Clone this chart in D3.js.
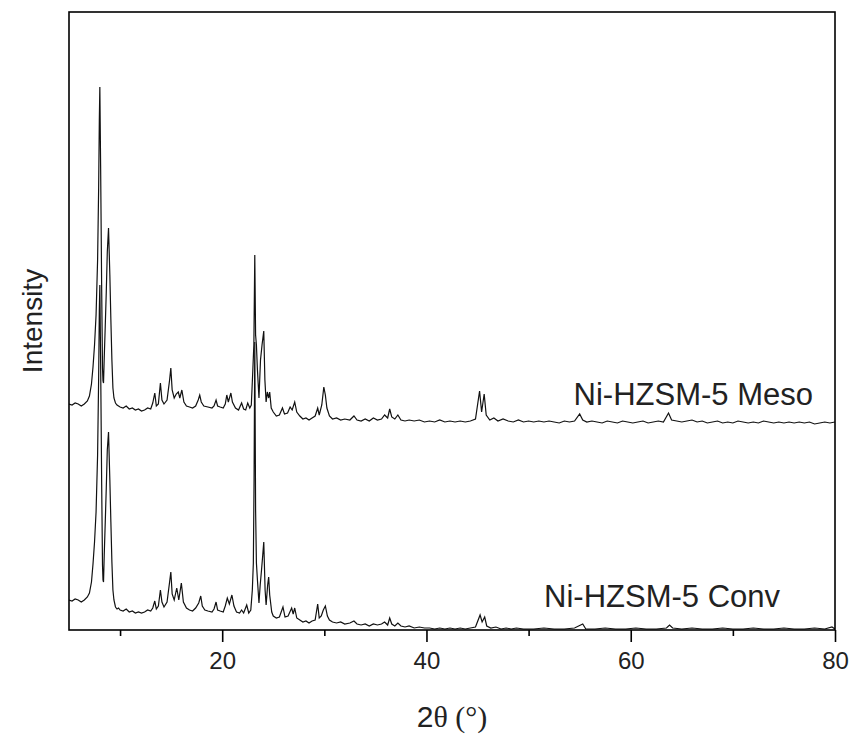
<!DOCTYPE html>
<html>
<head>
<meta charset="utf-8">
<script src="https://cdnjs.cloudflare.com/ajax/libs/d3/7.8.5/d3.min.js"></script>
<style>
  body { margin: 0; background: #fff; }
  svg { font-family: "Liberation Sans", Arial, sans-serif; }
</style>
</head>
<body>
<div id="chart"></div>
<script>
// XRD patterns: [2theta, intensity (a.u.)]
var convPattern = [
  [5.0,30],[5.3,29],[5.6,31],[5.9,30],[6.2,28],[6.5,30],[6.8,33],[7.0,37],[7.2,48],[7.35,66],
  [7.5,88],[7.65,118],[7.8,175],[7.9,250],[7.97,320],[8.02,345],[8.1,265],[8.2,145],[8.28,65],
  [8.33,50],[8.38,48],[8.45,75],[8.55,108],[8.65,142],[8.75,180],[8.87,198],[9.0,150],[9.1,108],
  [9.2,68],[9.3,40],[9.4,30],[9.55,23],[9.7,21],[9.85,22],[10.0,20],[10.3,19],[10.6,21],[10.9,18],[11.2,19],
  [11.5,17],[11.8,18],[12.1,17],[12.4,18],[12.7,20],[13.0,19],[13.2,22],[13.4,29],[13.55,21],
  [13.75,24],[13.95,40],[14.1,28],[14.3,23],[14.6,28],[14.85,48],[14.97,58],[15.1,36],[15.3,30],
  [15.55,42],[15.75,30],[16.0,47],[16.2,28],[16.5,22],[16.8,20],[17.1,19],[17.4,22],[17.7,27],
  [17.9,34],[18.05,24],[18.3,20],[18.6,19],[19.0,18],[19.2,21],[19.4,28],[19.55,20],[19.8,19],
  [20.1,18],[20.3,24],[20.5,32],[20.7,26],[20.95,35],[21.15,24],[21.4,18],[21.7,17],[21.9,20],
  [22.1,17],[22.4,25],[22.6,17],[22.8,20],[22.95,40],[23.05,67],[23.12,150],[23.19,288],[23.27,120],
  [23.35,67],[23.45,50],[23.6,27],[23.72,45],[23.85,60],[23.97,75],[24.07,88],[24.2,40],[24.3,25],
  [24.45,45],[24.55,53],[24.65,35],[24.85,18],[25.0,14],[25.3,12],[25.6,13],[25.95,23],[26.15,13],
  [26.45,14],[26.8,22],[26.95,16],[27.1,22],[27.3,12],[27.6,10],[27.9,8],[28.2,9],[28.5,7],[28.8,9],
  [29.1,10],[29.35,26],[29.5,12],[29.7,14],[29.9,20],[30.1,24],[30.3,14],[30.5,10],[30.8,8],[31.2,7],
  [31.6,8],[32.0,6],[32.5,7],[32.9,9],[33.2,6],[33.6,5],[34.0,6],[34.4,4],[34.8,6],[35.2,5],[35.6,6],
  [35.9,8],[36.2,5],[36.4,12],[36.6,6],[36.9,4],[37.2,7],[37.5,4],[37.9,3],[38.3,4],[38.8,2],[39.3,3],
  [39.8,2],[40.3,2],[40.8,1],[41.3,2],[41.8,1],[42.3,2],[42.8,1],[43.3,2],[43.8,1],[44.3,2],[44.8,3],
  [45.25,15],[45.45,8],[45.7,13],[45.9,4],[46.3,2],[46.8,3],[47.3,1],[47.8,2],[48.3,1],[48.8,2],
  [49.5,1],[50.5,1],[51.5,2],[52.5,1],[53.5,1],[54.5,2],[55.3,6],[55.6,1],[56.5,1],[57.5,2],
  [58.5,1],[59.5,1],[60.5,2],[61.5,1],[62.5,1],[63.5,2],[63.8,5],[64.1,2],[65.0,1],[66.0,2],
  [67.0,1],[68.0,1],[69.0,2],[70.0,1],[71.0,1],[72.0,2],[73.0,1],[74.0,1],[75.0,2],[76.0,1],
  [77.0,1],[78.0,2],[79.0,1],[79.7,3],[80.0,1]
];

var mesoPattern = [
  [5.0,26],[5.3,25],[5.6,27],[5.9,26],[6.2,24],[6.5,26],[6.8,29],[7.0,34],[7.2,46],[7.35,63],
  [7.5,85],[7.65,115],[7.8,170],[7.9,240],[7.97,310],[8.02,343],[8.1,260],[8.2,140],[8.28,62],
  [8.33,49],[8.38,47],[8.45,72],[8.55,104],[8.65,138],[8.75,178],[8.87,202],[9.0,155],[9.1,110],
  [9.2,70],[9.3,42],[9.4,32],[9.55,27],[9.7,25],[9.85,24],[10.0,23],[10.3,22],[10.6,24],[10.9,21],[11.2,22],
  [11.5,20],[11.8,21],[12.1,19],[12.4,20],[12.7,22],[13.0,21],[13.2,27],[13.4,37],[13.55,24],
  [13.75,26],[13.95,47],[14.1,30],[14.3,26],[14.6,30],[14.85,50],[14.97,62],[15.1,40],[15.3,32],
  [15.5,36],[15.7,38],[15.85,32],[16.05,40],[16.25,28],[16.5,24],[16.8,23],[17.1,22],[17.4,24],
  [17.65,30],[17.8,35],[17.95,28],[18.2,24],[18.6,23],[19.0,22],[19.2,24],[19.4,30],[19.55,24],
  [19.8,23],[20.1,22],[20.3,26],[20.45,35],[20.6,28],[20.85,37],[21.0,28],[21.3,22],[21.6,20],
  [21.9,27],[22.1,21],[22.3,20],[22.5,27],[22.7,22],[22.85,25],[23.0,60],[23.1,85],[23.19,175],
  [23.27,95],[23.35,85],[23.45,60],[23.6,32],[23.75,70],[23.9,85],[24.07,99],[24.18,50],[24.3,28],
  [24.42,38],[24.55,32],[24.65,38],[24.8,22],[25.0,18],[25.3,14],[25.6,15],[25.9,22],[26.1,16],
  [26.4,17],[26.65,23],[26.85,20],[27.1,28],[27.3,18],[27.6,14],[27.9,11],[28.2,12],[28.5,10],
  [28.8,12],[29.1,14],[29.35,22],[29.5,15],[29.75,25],[29.95,43],[30.1,35],[30.25,22],[30.5,14],
  [30.8,11],[31.2,12],[31.6,10],[32.0,11],[32.5,10],[32.9,14],[33.2,10],[33.6,9],[34.0,11],[34.4,9],
  [34.8,12],[35.2,10],[35.6,11],[35.9,15],[36.2,12],[36.4,21],[36.6,13],[36.9,11],[37.2,15],[37.5,10],
  [37.9,9],[38.3,10],[38.8,9],[39.3,10],[39.8,8],[40.3,9],[40.8,8],[41.3,10],[41.8,8],[42.3,9],
  [42.8,8],[43.3,9],[43.8,8],[44.3,9],[44.8,11],[45.2,39],[45.4,18],[45.65,36],[45.85,15],[46.2,10],
  [46.6,12],[47.0,9],[47.5,11],[48.0,9],[48.5,8],[49.0,10],[49.5,8],[50.0,9],[50.5,8],[51.0,9],
  [51.5,8],[52.0,9],[52.5,8],[53.0,7],[53.5,9],[54.0,8],[54.5,9],[55.0,16],[55.3,10],[55.7,8],
  [56.2,9],[56.7,8],[57.2,7],[57.7,9],[58.2,8],[58.7,7],[59.2,9],[59.7,8],[60.2,7],[60.7,8],
  [61.2,9],[61.7,7],[62.2,8],[62.7,9],[63.2,8],[63.7,17],[64.0,10],[64.5,9],[65.0,8],[65.5,9],
  [66.0,10],[66.5,8],[67.0,9],[67.5,7],[68.0,8],[68.5,9],[69.0,7],[69.5,8],[70.0,7],[70.5,9],
  [71.0,8],[71.5,7],[72.0,8],[72.5,7],[73.0,9],[73.5,8],[74.0,7],[74.5,8],[75.0,7],[75.5,8],
  [76.0,7],[76.5,8],[77.0,7],[77.5,8],[78.0,6],[78.5,7],[79.0,8],[79.5,7],[80.0,8]
];

var mesoOffset = 200;          // vertical stacking offset of the Meso pattern
var majorTicks = [20, 40, 60, 80];
var minorTicks = [10, 30, 50, 70];
var seriesLabels = ["Ni-HZSM-5 Meso", "Ni-HZSM-5 Conv"];

var svgWidth = 854;
var svgHeight = 734;
var margin = { top: 12, right: 19, bottom: 104, left: 69 };
var width = svgWidth - margin.left - margin.right;
var height = svgHeight - margin.top - margin.bottom;

var svg = d3.select("#chart")
  .append("svg")
  .attr("width", svgWidth)
  .attr("height", svgHeight);

var chartGroup = svg.append("g")
  .attr("transform", `translate(${margin.left}, ${margin.top})`);

var xScale = d3.scaleLinear().domain([5, 80]).range([0, width]);
var yScale = d3.scaleLinear().domain([0, height]).range([height, 0]);

chartGroup.append("clipPath").attr("id", "plotClip")
  .append("rect").attr("width", width).attr("height", height);

var convLine = d3.line()
  .x(d => xScale(d[0]))
  .y(d => yScale(d[1]));

var mesoLine = d3.line()
  .x(d => xScale(d[0]))
  .y(d => yScale(d[1] + mesoOffset));

var traces = chartGroup.append("g").attr("clip-path", "url(#plotClip)");

traces.append("path")
  .datum(mesoPattern)
  .attr("d", mesoLine)
  .attr("fill", "none")
  .attr("stroke", "#111")
  .attr("stroke-width", 1.2);

traces.append("path")
  .datum(convPattern)
  .attr("d", convLine)
  .attr("fill", "none")
  .attr("stroke", "#111")
  .attr("stroke-width", 1.2);

// Axes
var bottomAxis = d3.axisBottom(xScale)
  .tickValues(majorTicks)
  .tickSize(12)
  .tickPadding(10)
  .tickFormat(d3.format("d"));

var minorAxis = d3.axisBottom(xScale)
  .tickValues(minorTicks)
  .tickSize(6)
  .tickFormat("");

var xAxisG = chartGroup.append("g")
  .attr("transform", `translate(0, ${height})`)
  .call(bottomAxis);
xAxisG.select(".domain").remove();
xAxisG.selectAll("line").attr("stroke", "#000").attr("stroke-width", 1.6);
xAxisG.selectAll("text")
  .attr("font-size", "24px")
  .attr("font-family", "'Liberation Sans', Arial, sans-serif")
  .attr("fill", "#222");

var minorG = chartGroup.append("g")
  .attr("transform", `translate(0, ${height})`)
  .call(minorAxis);
minorG.select(".domain").remove();
minorG.selectAll("line").attr("stroke", "#000").attr("stroke-width", 1.6);

// Frame
chartGroup.append("rect")
  .attr("width", width)
  .attr("height", height)
  .attr("fill", "none")
  .attr("stroke", "#000")
  .attr("stroke-width", 1.6);

// Series labels
chartGroup.append("text")
  .attr("x", xScale(80) - 22)
  .attr("y", yScale(mesoOffset + 25))
  .attr("text-anchor", "end")
  .attr("font-size", "31px")
  .attr("fill", "#222")
  .text(seriesLabels[0]);

chartGroup.append("text")
  .attr("x", xScale(80) - 55)
  .attr("y", yScale(23))
  .attr("text-anchor", "end")
  .attr("font-size", "31px")
  .attr("fill", "#222")
  .text(seriesLabels[1]);

// Axis titles
var xTitle = chartGroup.append("text")
  .attr("x", width / 2)
  .attr("y", height + 97)
  .attr("text-anchor", "middle")
  .attr("font-size", "30px")
  .attr("fill", "#222");
xTitle.append("tspan").text("2");
xTitle.append("tspan").attr("font-family", "'Liberation Serif', 'Times New Roman', serif").text("θ (°)");

chartGroup.append("text")
  .attr("transform", "rotate(-90)")
  .attr("x", 0 - (height / 2))
  .attr("y", 0 - margin.left + 42)
  .attr("text-anchor", "middle")
  .attr("font-size", "28px")
  .attr("fill", "#222")
  .text("Intensity");
</script>
</body>
</html>
